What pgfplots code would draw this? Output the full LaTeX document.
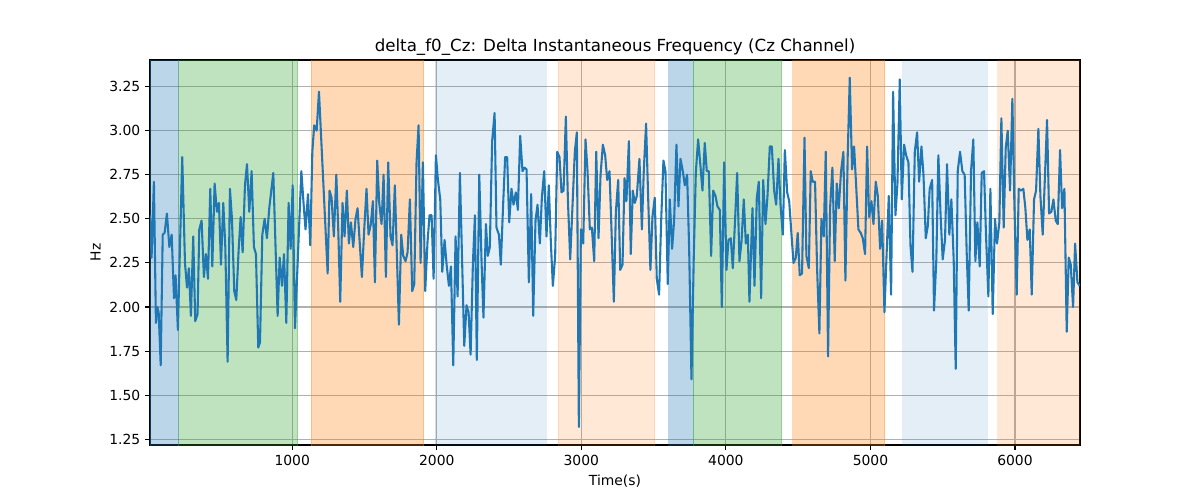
\documentclass[border=0pt]{standalone}
\usepackage{pgfplots}
\pgfplotsset{compat=1.18}
\usepackage{pgfplotstable}
\usepackage{fontspec}
\setmainfont{DejaVu Sans}
\definecolor{tabblue}{HTML}{1F77B4}
\definecolor{tabgreen}{HTML}{2CA02C}
\definecolor{taborange}{HTML}{FF7F0E}
\definecolor{gridgray}{HTML}{B0B0B0}
\pgfplotstableread{
t v
16 2.52
27 2.28
43 2.71
57 1.91
67 2.00
76 1.97
90 1.67
104 2.41
117 2.42
133 2.53
150 2.34
166 2.41
182 2.05
193 2.18
209 1.87
239 2.85
258 2.25
272 2.11
285 2.22
299 1.95
315 2.40
329 1.92
345 1.96
357 2.44
373 2.49
389 2.17
403 2.30
417 2.16
433 2.67
447 2.23
463 2.70
479 2.54
493 2.59
507 2.24
523 2.59
537 2.34
553 1.69
569 2.67
583 2.50
599 2.09
613 2.04
629 2.32
643 2.51
657 2.31
673 2.69
687 2.81
703 2.54
719 2.77
735 2.34
749 2.30
765 1.77
777 1.80
793 2.41
809 2.50
825 2.39
841 2.56
869 2.76
899 1.95
913 2.28
929 2.12
943 2.30
959 1.91
975 2.59
989 2.33
1003 2.69
1019 1.88
1035 2.20
1063 2.77
1079 2.58
1092 2.44
1109 2.64
1125 2.35
1139 2.88
1152 3.03
1169 3.00
1185 3.22
1245 2.19
1258 2.66
1272 2.62
1288 2.40
1305 2.75
1318 2.45
1332 2.03
1348 2.59
1362 2.40
1378 2.66
1392 2.36
1406 2.48
1422 2.34
1438 2.50
1452 2.56
1468 2.35
1482 2.17
1498 2.44
1514 2.67
1528 2.41
1544 2.47
1558 2.60
1572 2.14
1588 2.83
1602 2.59
1618 2.47
1632 2.75
1648 2.17
1664 2.82
1680 2.40
1694 2.35
1710 2.69
1738 1.90
1754 2.41
1768 2.29
1784 2.26
1798 2.31
1814 2.61
1830 2.09
1844 2.13
1860 2.82
1874 3.03
1888 2.25
1904 2.82
1920 2.09
1936 2.37
1950 2.52
1964 2.52
1978 2.16
1994 2.86
2008 2.72
2024 2.61
2038 2.20
2054 2.38
2068 2.24
2084 2.12
2098 2.23
2114 1.67
2130 2.40
2144 2.06
2160 2.76
2190 1.78
2206 2.01
2220 1.97
2234 1.73
2250 2.25
2264 2.52
2277 1.70
2294 2.75
2310 2.25
2323 1.94
2340 2.47
2353 2.29
2367 2.34
2383 2.94
2400 3.10
2413 2.45
2430 2.41
2443 2.24
2459 2.58
2473 2.85
2487 2.85
2501 2.48
2517 2.67
2531 2.58
2547 2.65
2561 2.55
2577 2.97
2593 2.77
2607 2.79
2621 2.78
2637 2.14
2653 2.64
2667 1.95
2683 2.49
2697 2.58
2713 2.36
2727 2.62
2743 2.77
2759 2.40
2775 2.69
2789 2.37
2803 2.12
2819 2.29
2833 2.88
2849 2.85
2863 2.65
2877 2.66
2893 3.08
2907 2.61
2923 2.27
2955 2.88
2969 2.99
2983 1.32
2997 2.44
3013 2.36
3029 2.95
3043 2.77
3059 2.44
3073 2.45
3089 2.26
3103 2.88
3119 2.39
3133 2.75
3149 2.92
3165 2.86
3179 2.72
3195 2.77
3209 2.43
3225 2.03
3239 2.54
3255 2.72
3269 2.21
3285 2.24
3299 2.73
3312 2.60
3329 2.94
3342 2.30
3356 2.66
3370 2.59
3384 2.63
3402 2.84
3419 2.44
3432 2.77
3448 3.04
3462 2.63
3478 2.21
3492 2.51
3508 2.62
3522 2.16
3538 2.07
3552 2.48
3568 2.83
3582 2.77
3598 2.13
3612 2.61
3628 2.33
3642 2.49
3658 2.92
3672 2.57
3686 2.84
3702 2.77
3716 2.69
3732 2.75
3746 2.33
3762 1.59
3778 2.29
3792 2.76
3808 2.95
3822 2.82
3838 2.66
3854 2.93
3868 2.77
3882 2.77
3898 2.29
3912 2.66
3928 2.63
3942 2.57
3958 2.55
3972 2.00
3988 2.82
4004 2.21
4018 2.38
4034 2.39
4048 2.22
4064 2.50
4078 2.76
4094 2.26
4108 2.37
4124 2.61
4138 2.36
4152 2.41
4163 2.03
4184 2.56
4198 2.12
4214 2.62
4228 2.71
4244 2.05
4258 2.72
4274 2.47
4288 2.63
4304 2.91
4318 2.91
4334 2.66
4348 2.58
4364 2.84
4378 2.58
4394 2.41
4408 2.89
4424 2.65
4438 2.60
4454 2.41
4468 2.25
4484 2.28
4497 2.42
4511 2.18
4527 2.19
4544 2.96
4557 2.29
4574 2.22
4587 2.77
4601 2.71
4617 2.71
4631 2.22
4647 1.85
4661 2.50
4677 2.40
4691 2.88
4707 1.72
4721 2.56
4737 2.79
4753 2.26
4767 2.70
4781 2.56
4797 2.77
4813 2.88
4827 2.15
4843 2.86
4857 3.30
4873 2.78
4887 2.91
4903 2.66
4917 2.44
4933 2.42
4947 2.39
4963 2.30
4977 2.91
4991 2.51
5007 2.60
5021 2.47
5037 2.71
5051 2.63
5067 2.33
5081 2.49
5097 1.97
5127 2.63
5143 2.07
5157 3.22
5173 2.52
5187 2.70
5203 3.29
5217 2.61
5233 2.92
5247 2.86
5263 2.82
5277 2.35
5291 2.20
5307 2.88
5323 2.99
5337 2.71
5353 2.91
5367 2.75
5383 2.39
5397 2.46
5410 2.67
5427 2.72
5440 1.98
5456 2.27
5470 2.86
5486 2.51
5500 2.27
5516 2.38
5530 2.81
5546 2.41
5560 2.61
5576 2.27
5590 1.65
5604 2.77
5620 2.88
5636 2.77
5652 2.75
5666 2.31
5680 1.98
5696 2.77
5712 2.95
5726 2.26
5740 2.48
5756 2.23
5770 2.76
5786 2.77
5800 2.40
5816 2.06
5830 2.67
5846 1.96
5862 2.50
5876 2.36
5892 2.48
5906 3.07
5922 2.45
5936 2.90
5950 3.00
5966 2.66
5982 3.18
5996 2.58
6012 2.07
6026 2.67
6042 2.66
6058 2.67
6072 2.56
6086 2.38
6102 2.44
6116 2.07
6132 2.61
6146 2.66
6162 3.01
6176 2.63
6192 2.41
6206 2.71
6222 3.06
6236 2.53
6252 2.54
6266 2.61
6282 2.49
6296 2.47
6312 2.89
6326 2.56
6342 2.67
6358 1.86
6372 2.28
6386 2.24
6402 2.00
6416 2.36
6432 2.14
6448 2.12
}\datatable
\begin{document}
\begin{tikzpicture}
\useasboundingbox (-108pt,-39.6pt) rectangle (756pt,320.4pt);
\begin{axis}[
  scale only axis, width=669.6pt, height=277.2pt,
  xmin=16, xmax=6450, ymin=1.218, ymax=3.40,
  xtick={1000,2000,3000,4000,5000,6000},
  ytick={1.25,1.5,1.75,2.0,2.25,2.5,2.75,3.0,3.25},
  /pgf/number format/assume math mode=true,
  xticklabel style={/pgf/number format/1000 sep={}, font=\fontsize{10}{12}\selectfont},
  yticklabel style={/pgf/number format/fixed, /pgf/number format/fixed zerofill, /pgf/number format/precision=2, font=\fontsize{10}{12}\selectfont},
  tick align=outside, major tick length=3.5pt,
  tick style={black, line width=0.8pt},
  xtick pos=bottom, ytick pos=left,
  axis line style={black, line width=0.8pt},
  grid=major, major grid style={gridgray, line width=0.8pt},
  title={delta\_f0\_Cz: Delta Instantaneous Frequency (Cz Channel)},
  title style={at={(axis description cs:0.5,1)}, anchor=base, yshift=0pt, font=\fontsize{12}{14}\selectfont, inner sep=0pt},
  xlabel={Time(s)},
  xlabel style={at={(axis description cs:0.5,0)}, anchor=base, yshift=-29.2pt, font=\fontsize{10}{12}\selectfont, inner sep=0pt},
  ylabel={Hz},
  ylabel style={at={(axis description cs:-0.0532,0.5)}, anchor=base, rotate=0, font=\fontsize{10}{12}\selectfont, inner sep=0pt},
]
\addplot[fill=tabblue, fill opacity=0.3, draw=tabblue, draw opacity=0.3, line width=0.5pt] coordinates {(16,1.0) (214,1.0) (214,3.6) (16,3.6)} -- cycle;
\addplot[fill=tabgreen, fill opacity=0.3, draw=tabgreen, draw opacity=0.3, line width=0.5pt] coordinates {(214,1.0) (1037,1.0) (1037,3.6) (214,3.6)} -- cycle;
\addplot[fill=taborange, fill opacity=0.3, draw=taborange, draw opacity=0.3, line width=0.5pt] coordinates {(1129,1.0) (1909,1.0) (1909,3.6) (1129,3.6)} -- cycle;
\addplot[fill=tabblue, fill opacity=0.12, draw=tabblue, draw opacity=0.12, line width=0.5pt] coordinates {(1987,1.0) (2759,1.0) (2759,3.6) (1987,3.6)} -- cycle;
\addplot[fill=taborange, fill opacity=0.17, draw=taborange, draw opacity=0.17, line width=0.5pt] coordinates {(2838,1.0) (3508,1.0) (3508,3.6) (2838,3.6)} -- cycle;
\addplot[fill=tabblue, fill opacity=0.3, draw=tabblue, draw opacity=0.3, line width=0.5pt] coordinates {(3605,1.0) (3774,1.0) (3774,3.6) (3605,3.6)} -- cycle;
\addplot[fill=tabgreen, fill opacity=0.3, draw=tabgreen, draw opacity=0.3, line width=0.5pt] coordinates {(3774,1.0) (4385,1.0) (4385,3.6) (3774,3.6)} -- cycle;
\addplot[fill=taborange, fill opacity=0.3, draw=taborange, draw opacity=0.3, line width=0.5pt] coordinates {(4463,1.0) (5099,1.0) (5099,3.6) (4463,3.6)} -- cycle;
\addplot[fill=tabblue, fill opacity=0.12, draw=tabblue, draw opacity=0.12, line width=0.5pt] coordinates {(5223,1.0) (5809,1.0) (5809,3.6) (5223,3.6)} -- cycle;
\addplot[fill=taborange, fill opacity=0.17, draw=taborange, draw opacity=0.17, line width=0.5pt] coordinates {(5881,1.0) (6500,1.0) (6500,3.6) (5881,3.6)} -- cycle;
\addplot[tabblue, line width=1.5pt, mark=none, line join=round] table[x=t, y=v] {\datatable};
\end{axis}
\end{tikzpicture}
\end{document}
